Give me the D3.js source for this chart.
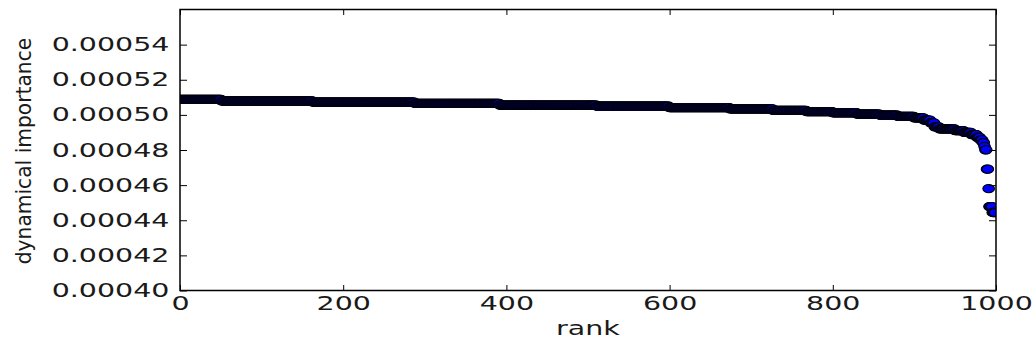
<!DOCTYPE html>
<html>
<head>
<meta charset="utf-8">
<script src="https://d3js.org/d3.v7.min.js"></script>
<style>
  html, body { margin: 0; padding: 0; background: #ffffff; }
  svg { display: block; }
  text { font-family: "DejaVu Sans", sans-serif; fill: #1a1a1a; }
</style>
</head>
<body>
<svg id="chart" width="1035" height="345"></svg>
<script>
// Sorted dynamical importance: each run holds one value repeated over consecutive ranks.
const runValues = [
  0.0005088, 0.0005079, 0.0005073, 0.0005065, 0.0005056, 0.0005049,
  0.0005041, 0.0005034, 0.0005026, 0.0005018, 0.0005012, 0.0005004,
  0.0004998, 0.0004991, 0.0004983, 0.0004970, 0.0004955, 0.0004932,
  0.0004920, 0.0004910, 0.0004900, 0.0004888, 0.0004872, 0.0004858,
  0.0004842, 0.0004820, 0.0004801, 0.0004691, 0.0004580, 0.0004478,
  0.0004444
];
const runCounts = [
  51, 112, 125, 104, 119, 89,
  74, 53, 41, 32, 30, 28,
  22, 20, 12, 8, 5, 6,
  19, 11, 9, 7, 4, 3,
  2, 1, 2, 2, 1, 4,
  4
];
const xTicks = [0, 200, 400, 600, 800, 1000];
const yTicks = [0.00040, 0.00042, 0.00044, 0.00046, 0.00048, 0.00050, 0.00052, 0.00054];
const xLabel = "rank";
const yLabel = "dynamical importance";

// Expand the runs into one point per rank.
const points = [];
runValues.forEach((v, i) => {
  for (let k = 0; k < runCounts[i]; k++) points.push({ rank: points.length, value: v });
});

const svg = d3.select("#chart");
const plot = { left: 180, right: 996, top: 9.5, bottom: 290.5 };
const stretch = 1.5;

const x = d3.scaleLinear().domain([0, 1000]).range([plot.left, plot.right]);
const y = d3.scaleLinear().domain([0.00040, 0.00056]).range([plot.bottom, plot.top]);

svg.append("defs").append("clipPath").attr("id", "plot-clip")
  .append("rect")
  .attr("x", plot.left).attr("y", plot.top)
  .attr("width", plot.right - plot.left).attr("height", plot.bottom - plot.top);

// Scatter markers, drawn in rank order so later ranks sit on top.
svg.append("g").attr("clip-path", "url(#plot-clip)")
  .selectAll("ellipse").data(points).join("ellipse")
  .attr("cx", d => x(d.rank))
  .attr("cy", d => y(d.value))
  .attr("rx", 5.8)
  .attr("ry", 4.1)
  .attr("fill", "#0000ff")
  .attr("stroke", "#000010")
  .attr("stroke-width", 1.1);

// Axes with inward ticks on all four sides.
const fmtY = d3.format(".5f");
const axisStyle = g => {
  g.select(".domain").remove();
  g.selectAll(".tick line").attr("stroke", "#000").attr("stroke-width", 1);
};

svg.append("g").attr("transform", `translate(${plot.left},0)`)
  .call(d3.axisLeft(y).tickValues(yTicks).tickSize(-7).tickFormat(fmtY))
  .call(axisStyle)
  .call(g => g.selectAll(".tick text")
    .attr("x", 0).attr("dy", null)
    .attr("text-anchor", "end")
    .attr("font-size", 19)
    .attr("transform", `translate(-10.5,6) scale(${stretch},1)`));

svg.append("g").attr("transform", `translate(${plot.right},0)`)
  .call(d3.axisRight(y).tickValues(yTicks).tickSize(-7).tickFormat(""))
  .call(axisStyle);

svg.append("g").attr("transform", `translate(0,${plot.bottom})`)
  .call(d3.axisBottom(x).tickValues(xTicks).tickSize(-5.5).tickFormat(d3.format("d")))
  .call(axisStyle)
  .call(g => g.selectAll(".tick text")
    .attr("y", 0).attr("dy", null)
    .attr("text-anchor", "middle")
    .attr("font-size", 19)
    .attr("transform", `translate(0,19.5) scale(${stretch},1)`));

svg.append("g").attr("transform", `translate(0,${plot.top})`)
  .call(d3.axisTop(x).tickValues(xTicks).tickSize(-5.5).tickFormat(""))
  .call(axisStyle);

// Plot frame.
svg.append("rect")
  .attr("x", plot.left).attr("y", plot.top)
  .attr("width", plot.right - plot.left).attr("height", plot.bottom - plot.top)
  .attr("fill", "none").attr("stroke", "#000").attr("stroke-width", 1.5);

// Axis titles.
svg.append("text")
  .attr("text-anchor", "middle")
  .attr("font-size", 19)
  .attr("transform", `translate(${(plot.left + plot.right) / 2},335) scale(${stretch},1)`)
  .text(xLabel);

svg.append("text")
  .attr("text-anchor", "middle")
  .attr("font-size", 22)
  .attr("transform", `translate(31,${(plot.top + plot.bottom) / 2 + 1}) rotate(-90) scale(0.92,1)`)
  .text(yLabel);
</script>
</body>
</html>
